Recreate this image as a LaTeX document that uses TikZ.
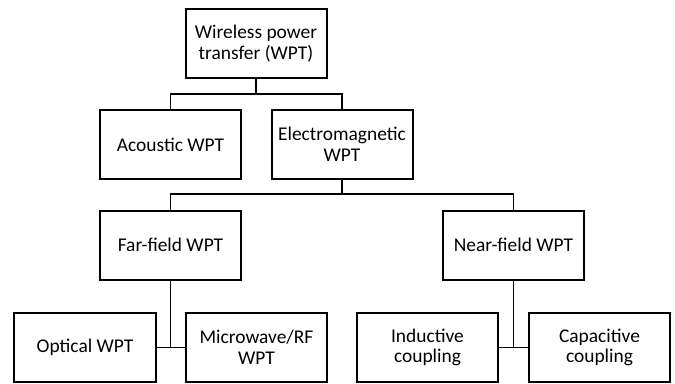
\documentclass[tikz,border=0pt]{standalone}
\usepackage{fontspec}
\setmainfont{Carlito}
\usepackage{tikz}

\begin{document}
\begin{tikzpicture}[x=1bp, y=1bp,
        box/.style={draw, line width=2bp, minimum width=141bp, minimum height=69bp, inner sep=0pt, align=center, font=\fontsize{19.5}{20.8}\selectfont},
        link/.style={line width=1.3bp}]
        \useasboundingbox (0,0) rectangle (675,383);

        \node[box] (wpt) at (256, 339.5) {Wireless power\\transfer (WPT)};
        \node[box] (acoustic) at (170.5, 238.5) {Acoustic WPT};
        \node[box] (em) at (342, 238.5) {Electromagnetic\\WPT};
        \node[box] (far) at (170.5, 138) {Far-field WPT};
        \node[box] (near) at (513.5, 138) {Near-field WPT};
        \node[box] (optical) at (85, 35.5) {Optical WPT};
        \node[box] (micro) at (256.5, 35.5) {Microwave/RF\\WPT};
        \node[box] (inductive) at (427.5, 35.5) {Inductive\\coupling};
        \node[box] (capacitive) at (599.5, 35.5) {Capacitive\\coupling};

        \coordinate (b1) at (256, 289);
        \coordinate (b2) at (342, 189);

        \draw[link] (wpt.south) -- (b1) -| (acoustic.north);
        \draw[link] (b1) -| (em.north);
        \draw[link] (em.south) -- (b2) -| (far.north);
        \draw[link] (b2) -| (near.north);
        \draw[link] (far.south) -- (far.south |- optical.east);
        \draw[link] (optical.east) -- (micro.west);
        \draw[link] (near.south) -- (near.south |- inductive.east);
        \draw[link] (inductive.east) -- (capacitive.west);
    \end{tikzpicture}
\end{document}
